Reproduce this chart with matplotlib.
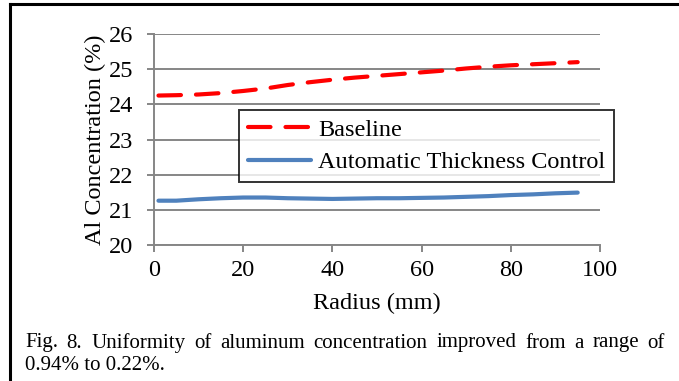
import numpy as np
import matplotlib
matplotlib.use("Agg")
import matplotlib.pyplot as plt
from matplotlib.lines import Line2D

# data
radius_base = [1, 5, 10, 15, 20, 25, 30, 35, 40, 45, 50, 55, 60, 65, 70, 75, 80, 85, 90, 95]
baseline = [24.25, 24.26, 24.28, 24.32, 24.38, 24.45, 24.55, 24.63, 24.70, 24.76,
            24.81, 24.86, 24.91, 24.96, 25.02, 25.07, 25.11, 25.14, 25.17, 25.20]
radius_atc = [1, 5, 10, 15, 20, 25, 30, 35, 40, 45, 50, 55, 60, 65, 70, 75, 80, 85, 90, 95]
atc = [21.26, 21.26, 21.30, 21.33, 21.35, 21.35, 21.33, 21.32, 21.31, 21.32,
       21.33, 21.33, 21.34, 21.35, 21.37, 21.39, 21.42, 21.44, 21.47, 21.49]
x_ticks = [0, 20, 40, 60, 80, 100]
y_ticks = [20, 21, 22, 23, 24, 25, 26]
caption_1 = "Fig. 8. Uniformity of aluminum concentration improved from a range of"
caption_2 = "0.94% to 0.22%."

plt.rcParams["font.family"] = ["Liberation Serif", "DejaVu Serif"]
GRAY = "#868686"
W, H = 679, 381
FS = 17.5

fig = plt.figure(figsize=(W / 100, H / 100), dpi=100)
ax = fig.add_axes([154 / W, 1 - 245 / H, (600 - 154) / W, (245 - 34) / H])

ax.plot(radius_base, baseline, color="#ff0000", lw=3.0, dashes=(5.4, 3.6),
        solid_capstyle="round", dash_capstyle="round", label="Baseline")
ax.plot(radius_atc, atc, color="#4f81bd", lw=3.0, solid_capstyle="round",
        label="Automatic Thickness Control")

ax.set_xlim(0, 100)
ax.set_ylim(20, 26)
ax.set_xticks(x_ticks)
ax.set_yticks(y_ticks)
ax.yaxis.grid(True, color=GRAY, lw=1.4)
ax.set_axisbelow(True)
for s in ["top", "right"]:
    ax.spines[s].set_visible(False)
for s in ["left", "bottom"]:
    ax.spines[s].set_color(GRAY)
    ax.spines[s].set_linewidth(1.4)
ax.tick_params(axis="both", color=GRAY, width=1.4, length=5, labelsize=FS)
ax.tick_params(axis="y", pad=10)
ax.tick_params(axis="x", pad=6)
ax.set_xlabel("Radius (mm)", fontsize=FS, labelpad=8)
ax.set_ylabel("Al Concentration (%)", fontsize=FS, labelpad=2)

leg = ax.legend(loc="upper left", bbox_to_anchor=(239 / W, 1 - 110 / H),
                bbox_transform=fig.transFigure, fontsize=FS, frameon=True,
                fancybox=False, edgecolor="black", handlelength=2.6,
                borderpad=0.35, labelspacing=0.45, handletextpad=0.3,
                borderaxespad=0)
leg.get_frame().set_linewidth(1.4)

# figure frame (left and top edges only are visible in the crop)
fig.add_artist(Line2D([10 / W, 10 / W], [0, 1 - 4 / H], color="black", lw=2.2,
                      transform=fig.transFigure))
fig.add_artist(Line2D([10 / W, 1], [1 - 4 / H, 1 - 4 / H], color="black", lw=2.2,
                      transform=fig.transFigure))

# justified caption: spread the first line's words between x=25 and x=665
fig.canvas.draw()
r = fig.canvas.get_renderer()
words = caption_1.split()
texts = [fig.text(0, 1 - 343 / H, w, fontsize=15, va="center") for w in words]
widths = [t.get_window_extent(r).width for t in texts]
gap = (665 - 25 - sum(widths)) / (len(words) - 1)
x = 25
for t, w in zip(texts, widths):
    t.set_x(x / W)
    x += w + gap
fig.text(25 / W, 1 - 365 / H, caption_2, fontsize=15, va="center")

fig.savefig("out.png", dpi=100)
